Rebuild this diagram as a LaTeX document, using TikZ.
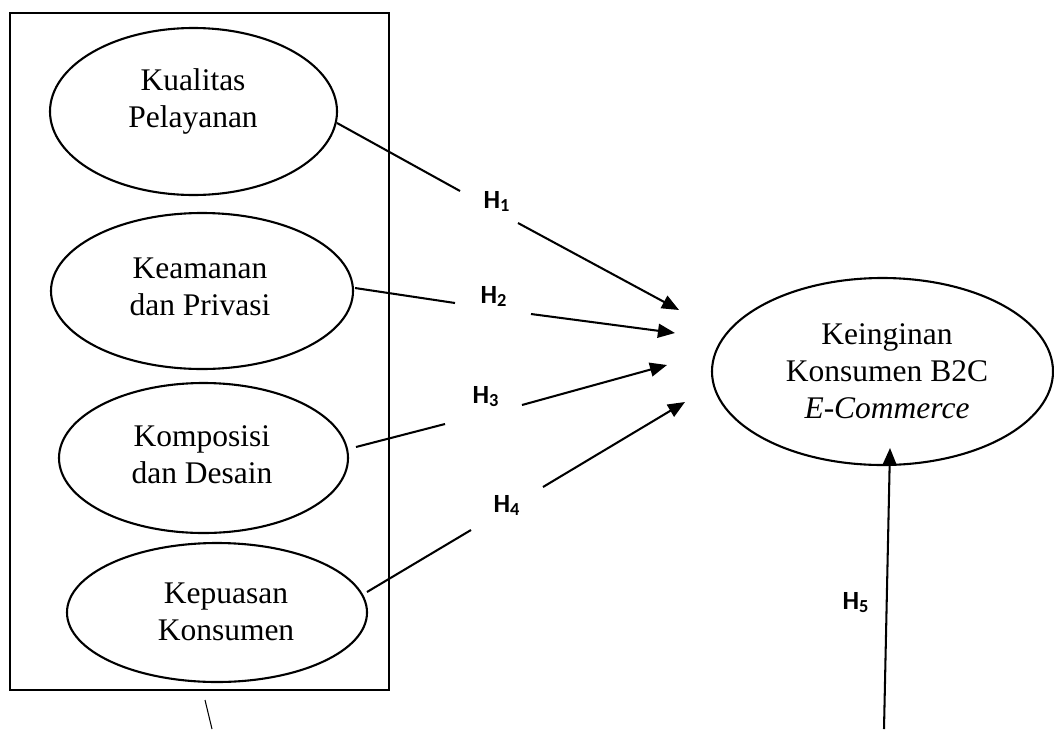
\documentclass[tikz,border=0pt]{standalone}
\usepackage{fontspec}
\setmainfont{Liberation Serif}
\newfontfamily\calibri{Carlito}
\usetikzlibrary{shapes.geometric,arrows.meta}
\newlength\pxl \setlength\pxl{0.381pt}
\begin{document}
\begin{tikzpicture}[x=0.381pt,y=-0.381pt,
  ell/.style={ellipse,draw,line width=0.8pt,inner sep=0pt},
  etext/.style={align=center,font=\fontsize{12}{14.1}\selectfont,inner sep=0pt},
  hlab/.style={anchor=base west,inner sep=0pt,font=\calibri\bfseries\fontsize{10}{12}\selectfont},
  conn/.style={line width=0.78pt},
  arr/.style={line width=0.78pt,-{Triangle[length=6.5pt,width=5.3pt]}}]
\useasboundingbox (0,0) rectangle (1054,729);
\node[draw,line width=1.1pt,minimum width=379*\pxl,minimum height=677*\pxl,inner sep=0pt] (box) at (199.5,351.5) {};
% left ellipses
\node[ell,minimum width=287*\pxl,minimum height=167*\pxl] (e1) at (193.5,111.5) {};
\node[etext] (t1) at (193,101) {Kualitas\\Pelayanan};
\node[ell,minimum width=302*\pxl,minimum height=156*\pxl] (e2) at (202,291) {};
\node[etext] (t2) at (200,287) {Keamanan\\dan Privasi};
\node[ell,minimum width=289*\pxl,minimum height=150*\pxl] (e3) at (203.5,458) {};
\node[etext] (t3) at (202,455) {Komposisi\\dan Desain};
\node[ell,minimum width=300*\pxl,minimum height=139*\pxl] (e4) at (217,612.5) {};
\node[etext] (t4) at (226,612) {Kepuasan\\Konsumen};
% right ellipse
\node[ell,minimum width=341*\pxl,minimum height=187*\pxl] (e5) at (882.5,371.5) {};
\node[etext] (t5) at (887,371) {Keinginan\\Konsumen B2C\\\textit{E-Commerce}};
% connector points
\coordinate (s1) at (337,123);  \coordinate (g1a) at (460,191); \coordinate (g1b) at (518,223); \coordinate (p1) at (679,310);
\coordinate (s2) at (355,288);  \coordinate (g2a) at (455,303); \coordinate (g2b) at (531,314); \coordinate (p2) at (675,333);
\coordinate (s3) at (356,447);  \coordinate (g3a) at (445,424); \coordinate (g3b) at (522,405); \coordinate (p3) at (667,365);
\coordinate (s4) at (367,592);  \coordinate (g4a) at (471,530); \coordinate (g4b) at (543,487); \coordinate (p4) at (685,402);
\coordinate (s5) at (884,729);  \coordinate (p5) at (890,448);
\coordinate (b1) at (205,700);  \coordinate (b2) at (212,729);
\draw[conn] (s1) -- (g1a); \draw[arr] (g1b) -- (p1);
\draw[conn] (s2) -- (g2a); \draw[arr] (g2b) -- (p2);
\draw[conn] (s3) -- (g3a); \draw[arr] (g3b) -- (p3);
\draw[conn] (s4) -- (g4a); \draw[arr] (g4b) -- (p4);
\draw[arr] (s5) -- (p5);
\draw[line width=0.4pt] (b1) -- (b2);
% labels
\node[hlab] (h1) at (483,208) {H\textsubscript{1}};
\node[hlab] (h2) at (480,303) {H\textsubscript{2}};
\node[hlab] (h3) at (472,403) {H\textsubscript{3}};
\node[hlab] (h4) at (493,512) {H\textsubscript{4}};
\node[hlab] (h5) at (842,609) {H\textsubscript{5}};
\end{tikzpicture}
\end{document}
